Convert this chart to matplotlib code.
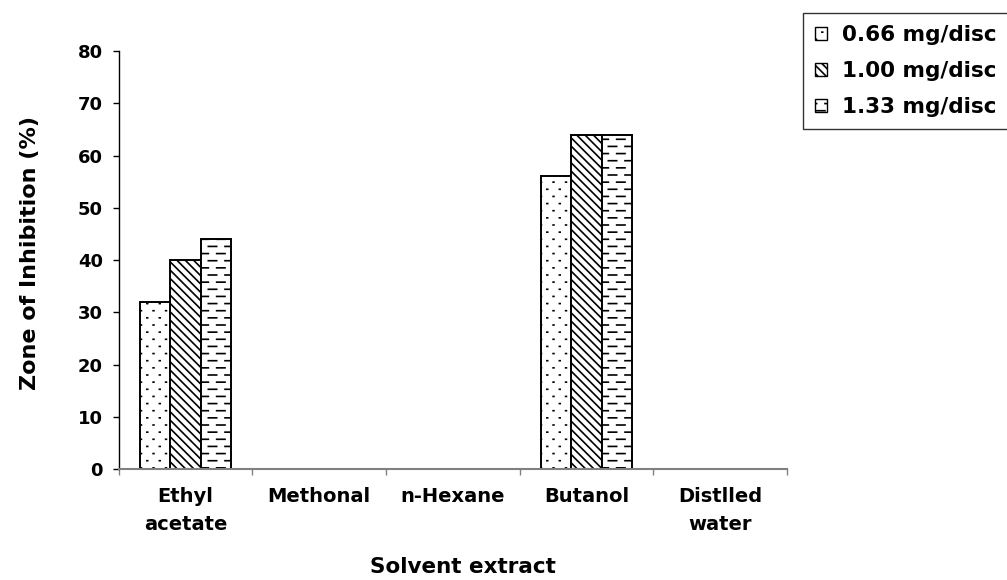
import numpy as np
import matplotlib
matplotlib.use("Agg")
import matplotlib.pyplot as plt
import matplotlib.hatch as mhatch
from matplotlib.path import Path
from matplotlib.patches import Patch

categories = ["Ethyl\nacetate", "Methonal", "n-Hexane", "Butanol", "Distlled\nwater"]
series_labels = ["0.66 mg/disc", "1.00 mg/disc", "1.33 mg/disc"]
vals_066 = [32, 0, 0, 56, 0]
vals_100 = [40, 0, 0, 64, 0]
vals_133 = [44, 0, 0, 64, 0]
yticks = [0, 10, 20, 30, 40, 50, 60, 70, 80]


class DashedHatch(mhatch.HatchPatternBase):
    """Staggered short horizontal dashes, selected by '_' in hatch string."""
    def __init__(self, hatch, density):
        c = hatch.count('_')
        self.num_rows = 14 * c
        self.per_row = 6
        self.num_vertices = self.num_rows * self.per_row * 2

    def set_vertices_and_codes(self, vertices, codes):
        n, k = self.num_rows, self.per_row
        period = 1.0 / k
        dash = period * 0.5
        idx = 0
        for r in range(n):
            y = (r + 0.5) / n
            off = 0.0 if r % 2 == 0 else period / 2
            for c in range(k):
                x0 = c * period + off
                vertices[idx] = (x0, y)
                vertices[idx + 1] = (min(x0 + dash, 1.0), y)
                codes[idx] = Path.MOVETO
                codes[idx + 1] = Path.LINETO
                idx += 2


class SparseDots(mhatch.HatchPatternBase):
    """Small staggered dots, selected by ':' in hatch string."""
    def __init__(self, hatch, density):
        c = hatch.count(':')
        self.num_rows = 14 * c
        self.per_row = 8
        self.num_vertices = self.num_rows * self.per_row * 2

    def set_vertices_and_codes(self, vertices, codes):
        n, k = self.num_rows, self.per_row
        period = 1.0 / k
        d = 0.008
        idx = 0
        for r in range(n):
            y = (r + 0.5) / n
            off = period * 0.25 if r % 2 == 0 else period * 0.75
            for c in range(k):
                x0 = c * period + off
                vertices[idx] = (x0, y)
                vertices[idx + 1] = (x0 + d, y)
                codes[idx] = Path.MOVETO
                codes[idx + 1] = Path.LINETO
                idx += 2


mhatch._hatch_types.append(DashedHatch)
mhatch._hatch_types.append(SparseDots)

plt.rcParams['font.family'] = ['DejaVu Sans']
plt.rcParams['font.weight'] = 'bold'
plt.rcParams['hatch.linewidth'] = 1.2
plt.rcParams['hatch.color'] = 'black'

fig = plt.figure(figsize=(10.07, 5.80), dpi=100)
ax = fig.add_axes([0.118, 0.191, 0.6635, 0.721])

x = np.arange(len(categories))
w = 0.228
hatches = [':', '\\\\\\\\', '_']
series = [vals_066, vals_100, vals_133]
for i, (vals, h) in enumerate(zip(series, hatches)):
    xs = x + (i - 1) * w
    vs = np.array(vals, dtype=float)
    mask = vs > 0
    ax.bar(xs[mask], vs[mask], width=w, facecolor='white', edgecolor='black',
           linewidth=1.4, hatch=h, zorder=2)

ax.set_xlim(-0.5, len(categories) - 0.5)
ax.set_ylim(0, 80)
ax.set_yticks(yticks)
ax.set_yticklabels([str(t) for t in yticks], fontsize=13, fontweight='bold')
ax.tick_params(axis='y', direction='out', length=4.5, width=1, pad=7, color='black')

ax.set_xticks(np.arange(-0.5, len(categories), 1.0))
ax.set_xticklabels([])
ax.tick_params(axis='x', which='major', direction='out', length=4.5, width=1, color='#808080')
ax.set_xticks(x, minor=True)
ax.set_xticklabels(categories, minor=True, fontsize=14, fontweight='bold', linespacing=1.6)
ax.tick_params(axis='x', which='minor', length=0, pad=13)

for s in ['top', 'right']:
    ax.spines[s].set_visible(False)
ax.spines['left'].set_color('black')
ax.spines['left'].set_linewidth(1.0)
ax.spines['bottom'].set_color('#808080')
ax.spines['bottom'].set_linewidth(1.5)

ax.set_ylabel("Zone of Inhibition (%)", fontsize=16, fontweight='bold')
ax.yaxis.set_label_coords(-0.118, 0.517)
ax.set_xlabel("Solvent extract", fontsize=15.5, fontweight='bold')
ax.xaxis.set_label_coords(0.515, -0.21)

handles = [Patch(facecolor='white', edgecolor='black', linewidth=1.0, hatch=h)
           for h in hatches]
leg = fig.legend(handles, series_labels, loc='upper left',
                 bbox_to_anchor=(0.7974, 0.9776), frameon=True, fancybox=False,
                 prop={'weight': 'bold', 'size': 15.5},
                 handlelength=0.56, handleheight=0.56, handletextpad=0.7,
                 labelspacing=0.75, borderpad=0.55, borderaxespad=0)
leg.get_frame().set_edgecolor('black')
leg.get_frame().set_linewidth(1.0)

fig.savefig("out.png", dpi=100)
